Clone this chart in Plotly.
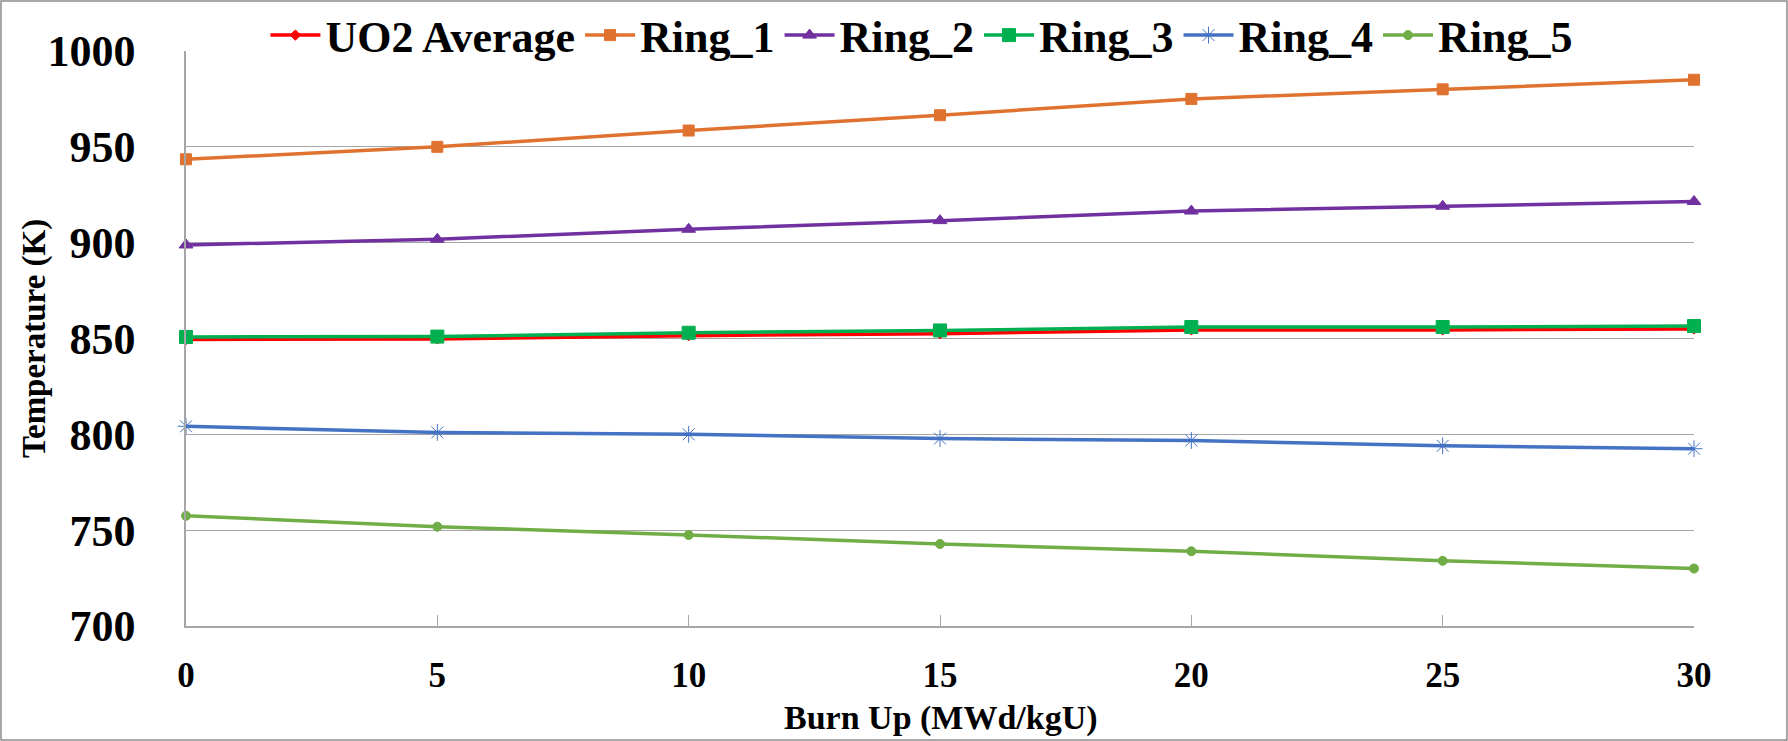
import plotly.graph_objects as go

burnup = [0, 5, 10, 15, 20, 25, 30]
uo2_avg = [849.5, 849.8, 851.5, 852.5, 854.5, 854.5, 855.0]
ring_1 = [943.5, 950.0, 958.5, 966.5, 975.0, 980.0, 985.0]
ring_2 = [898.8, 901.8, 907.0, 911.5, 916.5, 919.0, 921.5]
ring_3 = [850.8, 851.0, 853.0, 854.2, 856.0, 856.0, 856.5]
ring_4 = [804.2, 801.0, 800.0, 797.8, 796.8, 794.0, 792.5]
ring_5 = [757.5, 751.8, 747.5, 742.8, 739.0, 734.0, 730.0]

series = [
    ("UO2 Average", uo2_avg, "#FF0000", "diamond", 8),
    ("Ring_1", ring_1, "#E0722F", "square", 11),
    ("Ring_2", ring_2, "#7030A0", "triangle-up", 12),
    ("Ring_3", ring_3, "#00B050", "square", 13),
    ("Ring_4", ring_4, "#4472C4", "asterisk-open", 14),
    ("Ring_5", ring_5, "#70AD47", "circle", 9),
]

fig = go.Figure()
for name, vals, color, sym, size in series:
    fig.add_trace(go.Scatter(
        x=burnup, y=vals, name=name, mode="lines+markers",
        line=dict(color=color, width=3.5),
        marker=dict(symbol=sym, size=size, color=color,
                    line=dict(color=color, width=1)),
        cliponaxis=False,
    ))

W, H = 1788, 741
ml, mr, mt, mb = 186, 94, 51, 115
pw, ph = W - ml - mr, H - mt - mb

fig.update_layout(
    width=W, height=H,
    margin=dict(l=ml, r=mr, t=mt, b=mb, autoexpand=False),
    paper_bgcolor="white", plot_bgcolor="white",
    font=dict(family="Liberation Serif", color="black"),
    showlegend=True,
    legend=dict(orientation="h", x=0.488, xanchor="center", y=1 + 51 / ph, yanchor="top",
                font=dict(size=44, family="Liberation Serif", weight="bold"),
                itemwidth=50, tracegroupgap=0, bgcolor="rgba(0,0,0,0)"),
    xaxis=dict(
        range=[0, 30], tickvals=burnup, ticktext=[str(v) for v in burnup],
        showgrid=False, zeroline=False, automargin=False,
        showline=True, linecolor="#A6A6A6", linewidth=1.5,
        ticks="inside", ticklen=11, tickcolor="#A6A6A6", tickwidth=1,
        tickfont=dict(size=35, family="Liberation Serif", weight="bold"),
        ticklabelstandoff=17,
    ),
    yaxis=dict(
        range=[700, 1000], tickvals=[700, 750, 800, 850, 900, 950, 1000],
        showgrid=True, gridcolor="#A6A6A6", gridwidth=1, zeroline=False, automargin=False,
        showline=True, linecolor="#A6A6A6", linewidth=1.5,
        ticks="", tickfont=dict(size=44, family="Liberation Serif", weight="bold"),
        ticklabelstandoff=40,
    ),
    annotations=[
        dict(text="<b>Burn Up (MWd/kgU)</b>", xref="paper", yref="paper",
             x=(941 - ml) / pw, y=-(718 - (mt + ph)) / ph, xanchor="center", yanchor="middle",
             showarrow=False, font=dict(size=34, family="Liberation Serif")),
        dict(text="<b>Temperature (K)</b>", xref="paper", yref="paper",
             x=-(ml - 34) / pw, y=1 - (339 - mt) / ph, xanchor="center", yanchor="middle",
             textangle=-90, showarrow=False, font=dict(size=33, family="Liberation Serif")),
    ],
    shapes=[dict(type="rect", xref="paper", yref="paper",
                 x0=-(ml - 1) / pw, x1=1 + (mr - 1) / pw,
                 y0=-(mb - 1) / ph, y1=1 + (mt - 1) / ph,
                 line=dict(color="#8C8C8C", width=1.5), layer="below")],
)

fig.write_html("out.html")
